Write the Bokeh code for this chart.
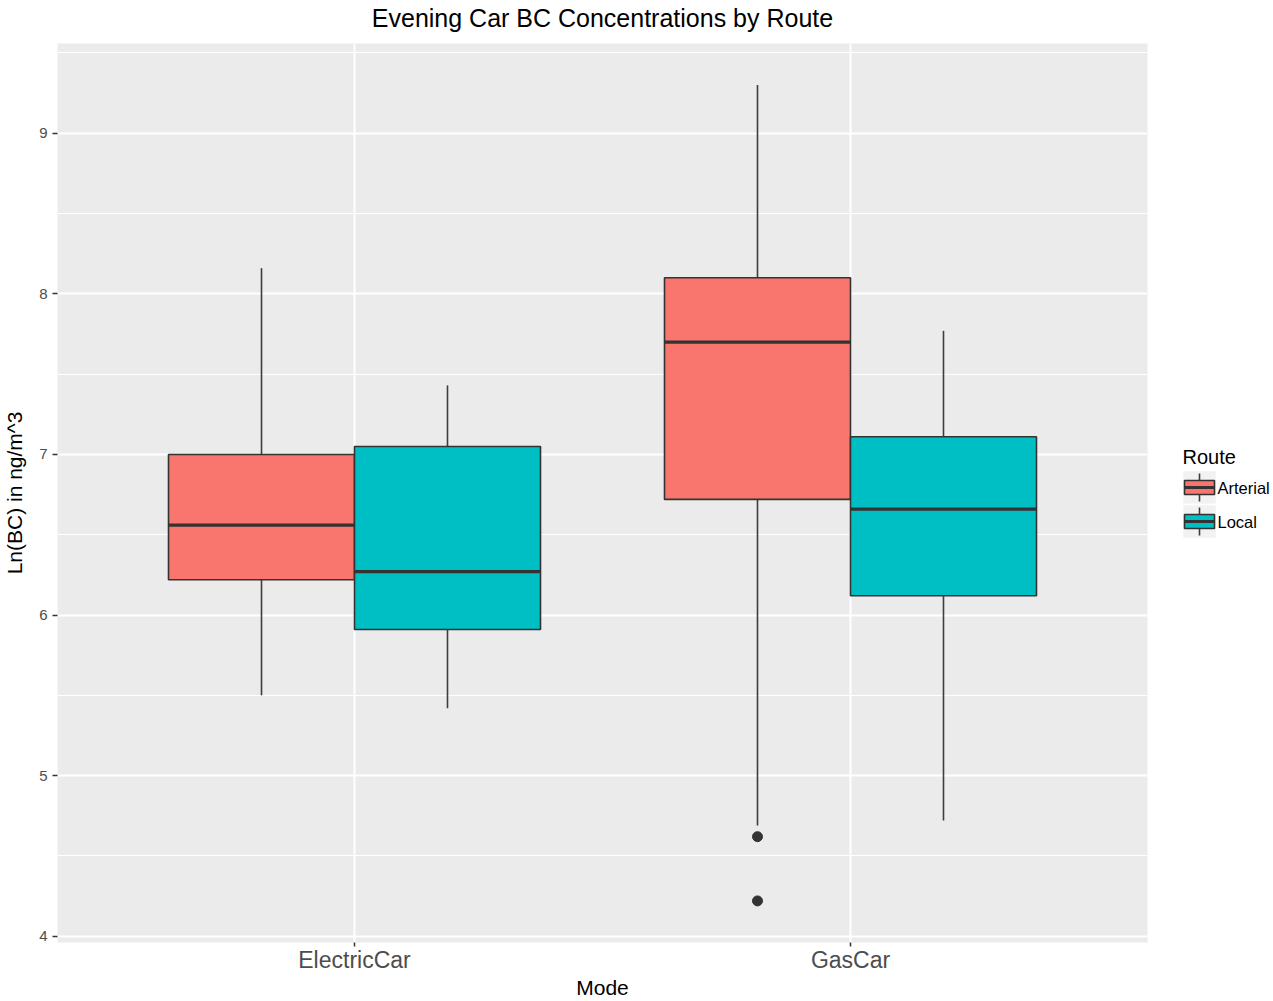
from bokeh.plotting import figure
from bokeh.models import (ColumnDataSource, FactorRange, Range1d, FixedTicker,
                          CategoricalAxis)
from bokeh.transform import dodge
from bokeh.layouts import row
from bokeh.core.properties import value
from bokeh.embed import file_html
from bokeh.resources import INLINE

# ---- data: summary statistics of ln(BC) per mode and route ----
modes = ["ElectricCar", "GasCar"]
routes = ["Arterial", "Local"]
route_colors = ["#F8766D", "#00BFC4"]

box_mode = ["ElectricCar", "ElectricCar", "GasCar", "GasCar"]
box_route = ["Arterial", "Local", "Arterial", "Local"]
whisker_low = [5.50, 5.42, 4.69, 4.72]
q1 = [6.22, 5.91, 6.72, 6.12]
median = [6.56, 6.27, 7.70, 6.66]
q3 = [7.00, 7.05, 8.10, 7.11]
whisker_high = [8.16, 7.43, 9.30, 7.77]

outlier_mode = ["GasCar", "GasCar"]
outlier_route = ["Arterial", "Arterial"]
outlier_value = [4.62, 4.22]

y_ticks = [4, 5, 6, 7, 8, 9]
y_minor = [4.5, 5.5, 6.5, 7.5, 8.5, 9.5]
Y_LO, Y_HI = 3.961, 9.559

TITLE = "Evening Car BC Concentrations by Route"
FONT = "Liberation Sans"
INK = "#333333"
BOX_W = 0.375
offsets = {"Arterial": -BOX_W / 2, "Local": BOX_W / 2}

# panel placement on the page
TOP, BOTTOM, LEFT, RIGHT = 43, 59, 57, 13
FRAME_W, FRAME_H = 1090, 899

# ---- main panel ----
p = figure(
    x_range=FactorRange(*modes, range_padding=0.0988),
    y_range=Range1d(Y_LO, Y_HI),
    frame_width=FRAME_W, frame_height=FRAME_H,
    width=LEFT + FRAME_W + RIGHT, height=TOP + FRAME_H + BOTTOM,
    min_border_left=LEFT, min_border_right=RIGHT,
    min_border_top=TOP, min_border_bottom=BOTTOM,
    output_backend="svg", toolbar_location=None,
)
p.background_fill_color = "#EBEBEB"
p.border_fill_color = "white"
p.outline_line_color = None

xax = p.below[0]
yax = p.left[0]

# plot title: a tick-less axis across the top whose label is the title,
# which keeps the text centred over the panel at a set distance from it
title_axis = CategoricalAxis(
    ticker=FixedTicker(ticks=[]),
    axis_label=TITLE, axis_line_color=None,
    major_tick_line_color=None, minor_tick_line_color=None,
    major_tick_out=0, major_tick_in=0, minor_tick_out=0, minor_tick_in=0,
    major_label_standoff=0, axis_label_standoff=12,
    axis_label_text_font=FONT, axis_label_text_font_size="25px",
    axis_label_text_font_style="normal", axis_label_text_color="black",
)
p.add_layout(title_axis, "above")

# grid
p.ygrid.ticker = FixedTicker(ticks=y_ticks, minor_ticks=y_minor)
p.ygrid.grid_line_color = "white"
p.ygrid.grid_line_width = 2
p.ygrid.minor_grid_line_color = "white"
p.ygrid.minor_grid_line_width = 1
p.xgrid.grid_line_color = "white"
p.xgrid.grid_line_width = 2

# axes
yax.ticker = FixedTicker(ticks=y_ticks)
for ax in (xax, yax):
    ax.axis_line_color = None
    ax.major_tick_line_color = INK
    ax.major_tick_line_width = 1.5
    ax.major_tick_in = 0
    ax.minor_tick_line_color = None
    ax.major_label_text_font = FONT
    ax.major_label_text_color = "#4D4D4D"
    ax.axis_label_text_font = FONT
    ax.axis_label_text_font_style = "normal"
    ax.axis_label_text_color = "black"
    ax.axis_label_text_font_size = "21px"

xax.axis_label = "Mode"
xax.major_tick_out = 4
xax.major_label_standoff = 0
xax.major_label_text_font_size = "23px"
xax.axis_label_standoff = 0

yax.axis_label = "Ln(BC) in ng/m^3"
yax.major_tick_out = 5
yax.major_label_standoff = 5
yax.major_label_text_font_size = "15px"
yax.axis_label_standoff = 10

# boxes, one group per route, dodged around each mode
for route, color in zip(routes, route_colors):
    idx = [i for i, r in enumerate(box_route) if r == route]
    src = ColumnDataSource(dict(
        mode=[box_mode[i] for i in idx],
        lo=[whisker_low[i] for i in idx],
        q1=[q1[i] for i in idx],
        med=[median[i] for i in idx],
        q3=[q3[i] for i in idx],
        hi=[whisker_high[i] for i in idx],
    ))
    off = offsets[route]
    xc = dodge("mode", off, range=p.x_range)
    p.segment(x0=xc, x1=xc, y0="q3", y1="hi", source=src,
              line_color="#3d3d3d", line_width=1.6)
    p.segment(x0=xc, x1=xc, y0="q1", y1="lo", source=src,
              line_color="#3d3d3d", line_width=1.6)
    p.vbar(x=xc, width=BOX_W, bottom="q1", top="q3", source=src,
           fill_color=color, line_color=INK, line_width=1.6)
    p.segment(x0=dodge("mode", off - BOX_W / 2, range=p.x_range),
              x1=dodge("mode", off + BOX_W / 2, range=p.x_range),
              y0="med", y1="med", source=src,
              line_color=INK, line_width=3.2)

out_src = ColumnDataSource(dict(mode=outlier_mode, route=outlier_route, v=outlier_value))
p.scatter(x=dodge("mode", offsets["Arterial"], range=p.x_range), y="v",
          source=out_src, size=10, fill_color=INK, line_color=INK)

# ---- legend strip: its frame shares the panel's vertical extent, and the
# ranges are set so that data units equal page pixels ----
LG_W = 1273 - (LEFT + FRAME_W + RIGHT)
lg = figure(
    width=LG_W, height=TOP + FRAME_H + BOTTOM,
    frame_width=LG_W, frame_height=FRAME_H,
    x_range=Range1d(LEFT + FRAME_W + RIGHT, 1273),
    y_range=Range1d(TOP + FRAME_H, TOP),
    x_axis_location=None, y_axis_location=None,
    min_border_left=0, min_border_right=0,
    min_border_top=TOP, min_border_bottom=BOTTOM,
    output_backend="svg", toolbar_location=None,
)
lg.grid.visible = False
lg.outline_line_color = None
lg.background_fill_color = "white"
lg.border_fill_color = "white"

key_cy = [487, 521]
key_src = ColumnDataSource(dict(
    label=routes, color=route_colors, cy=key_cy,
    bg_top=[c - 17 for c in key_cy], bg_bot=[c + 17 for c in key_cy],
    box_top=[c - 7 for c in key_cy], box_bot=[c + 7 for c in key_cy],
    w_top=[c - 14 for c in key_cy], w_bot=[c + 14 for c in key_cy],
    cx=[1199] * 2, bx0=[1184] * 2, bx1=[1214] * 2, tx=[1217] * 2,
))
lg.quad(left=1182, right=1216, top="bg_top", bottom="bg_bot", source=key_src,
        fill_color="#F2F2F2", line_color="white", line_width=1.5)
lg.segment(x0="cx", x1="cx", y0="w_top", y1="w_bot", source=key_src,
           line_color="#3d3d3d", line_width=1.6)
lg.quad(left="bx0", right="bx1", top="box_top", bottom="box_bot", source=key_src,
        fill_color="color", line_color=INK, line_width=1.6)
lg.segment(x0="bx0", x1="bx1", y0="cy", y1="cy", source=key_src,
           line_color=INK, line_width=3)
lg.text(x="tx", y="cy", text="label", source=key_src,
        text_font=value(FONT), text_font_size="16.5px", text_color="black",
        text_baseline="middle", text_align="left")
lg.text(x=[1182], y=[456], text=["Route"], text_font=value(FONT),
        text_font_size="20px", text_color="black",
        text_baseline="middle", text_align="left")

layout = row(p, lg, spacing=0)
open("out.html", "w").write(file_html(layout, INLINE))
